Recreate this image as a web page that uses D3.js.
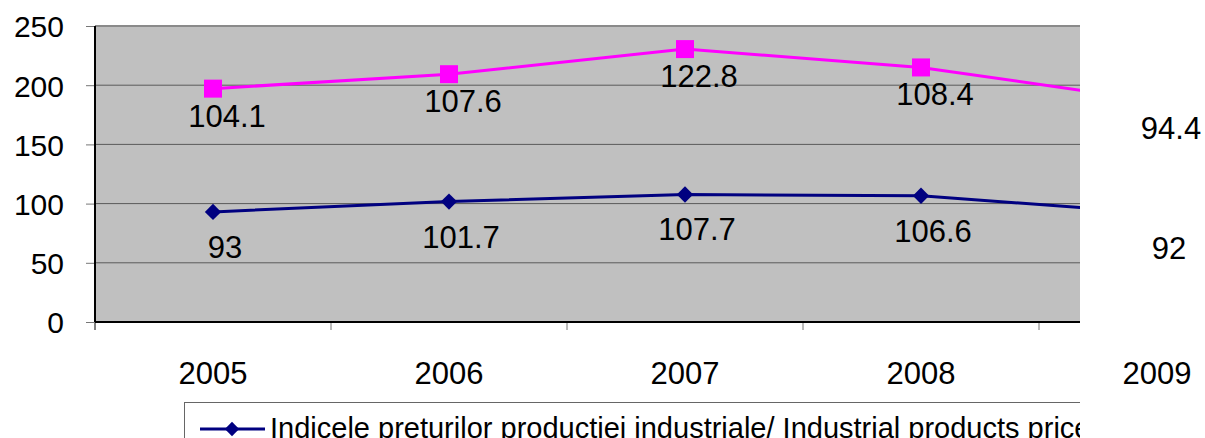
<!DOCTYPE html>
<html>
<head>
<meta charset="utf-8">
<script src="https://cdn.jsdelivr.net/npm/d3@7"></script>
<style>
  body { margin: 0; background: #fff; }
  svg text { font-family: "Liberation Sans", Arial, sans-serif; fill: #000; }
</style>
</head>
<body>
<div id="d3-container"></div>
<script>
    // Chart data
    const years = ["2005", "2006", "2007", "2008", "2009"];
    const industrialPrices = [93, 101.7, 107.7, 106.6, 92];
    const consumerPrices = [104.1, 107.6, 122.8, 108.4, 94.4];
    const yTicks = [0, 50, 100, 150, 200, 250];
    const legendLabel = "Indicele preturilor productiei industriale/ Industrial products price";

    function createChart()
    {
        // Set graph properties
        const width = 1205;
        const height = 438;
        const margin = { top: 26, bottom: 116, left: 95 };
        const bandWidth = 236;
        const clipRight = 1080;

        const svg = d3.select('#d3-container')
            .append('svg')
            .attr('width', width)
            .attr('height', height);

        // The plot and legend are cut off on the right
        svg.append("clipPath")
            .attr("id", "cut")
            .append("rect")
                .attr("x", 0)
                .attr("y", 0)
                .attr("width", clipRight)
                .attr("height", height);

        const x = d3.scaleBand()
            .domain(years)
            .range([margin.left, margin.left + years.length * bandWidth]);

        const y = d3.scaleLinear()
            .domain([0, 250])
            .range([height - margin.bottom, margin.top]);

        const cx = d => x(d) + x.bandwidth() / 2;

        const plot = svg.append("g").attr("clip-path", "url(#cut)");

        // Gray plot background
        plot.append("rect")
            .attr("x", margin.left)
            .attr("y", y(250))
            .attr("width", x.range()[1] - margin.left)
            .attr("height", y(0) - y(250))
            .attr("fill", "#c0c0c0");

        // Gridlines
        plot.append("g")
            .selectAll("line")
            .data(yTicks.filter(t => t > 0))
            .join("line")
                .attr("x1", margin.left)
                .attr("x2", x.range()[1])
                .attr("y1", d => y(d))
                .attr("y2", d => y(d))
                .attr("stroke", d => d === 250 ? "#8a8a8a" : "#5a5a5a")
                .attr("stroke-width", d => d === 250 ? 2 : 1);

        // Stacked series: the second line sits on top of the first
        const stacked = consumerPrices.map((v, i) => v + industrialPrices[i]);

        const line = d3.line()
            .x((d, i) => cx(years[i]))
            .y(d => y(d));

        plot.append("path")
            .datum(industrialPrices)
            .attr("d", line)
            .attr("fill", "none")
            .attr("stroke", "#000080")
            .attr("stroke-width", 3);

        plot.append("path")
            .datum(stacked)
            .attr("d", line)
            .attr("fill", "none")
            .attr("stroke", "#ff00ff")
            .attr("stroke-width", 3);

        const diamond = d3.symbol().type(d3.symbolDiamond2).size(170);

        plot.append("g")
            .selectAll("path")
            .data(industrialPrices)
            .join("path")
                .attr("d", diamond)
                .attr("transform", (d, i) => `translate(${cx(years[i])},${y(d)})`)
                .attr("fill", "#000080");

        plot.append("g")
            .selectAll("rect")
            .data(stacked)
            .join("rect")
                .attr("x", (d, i) => cx(years[i]) - 9)
                .attr("y", d => y(d) - 9)
                .attr("width", 18)
                .attr("height", 18)
                .attr("fill", "#ff00ff");

        // Axes
        const yAxis = d3.axisLeft(y).tickValues(yTicks).tickSize(9).tickPadding(22);
        const gy = svg.append("g")
            .attr("transform", `translate(${margin.left}, 0)`)
            .call(yAxis)
            .attr("font-size", "30px");
        gy.select(".domain").remove();
        gy.selectAll(".tick line").attr("stroke", "#777");
        gy.selectAll(".tick text").attr("dy", "0.36em");

        const xAxis = d3.axisBottom(x).tickSize(0).tickPadding(40);
        const gx = svg.append("g")
            .attr("transform", `translate(0,${y(0)})`)
            .call(xAxis)
            .attr("font-size", "31px");
        gx.select(".domain").remove();

        // Tick marks at band boundaries
        const boundaries = years.map(d => x(d));
        plot.append("g")
            .selectAll("line")
            .data(boundaries)
            .join("line")
                .attr("x1", d => d)
                .attr("x2", d => d)
                .attr("y1", y(0))
                .attr("y2", y(0) + 8)
                .attr("stroke", d => d === margin.left ? "#000" : "#777");

        // Axis lines
        plot.append("line")
            .attr("x1", margin.left)
            .attr("x2", x.range()[1])
            .attr("y1", y(0))
            .attr("y2", y(0))
            .attr("stroke", "#000")
            .attr("stroke-width", 2);
        svg.append("line")
            .attr("x1", margin.left)
            .attr("x2", margin.left)
            .attr("y1", y(250))
            .attr("y2", y(0))
            .attr("stroke", "#000")
            .attr("stroke-width", 2);

        // Data labels (not clipped)
        svg.append("g")
            .attr("font-size", "31px")
            .attr("text-anchor", "middle")
            .selectAll("text")
            .data(consumerPrices)
            .join("text")
                .attr("x", (d, i) => cx(years[i]) + 14)
                .attr("y", (d, i) => y(stacked[i]) + 38)
                .text(d => d);

        svg.append("g")
            .attr("font-size", "31px")
            .attr("text-anchor", "middle")
            .selectAll("text")
            .data(industrialPrices)
            .join("text")
                .attr("x", (d, i) => cx(years[i]) + 12)
                .attr("y", d => y(d) + 46)
                .text(d => d);

        // Legend
        const legend = svg.append("g").attr("clip-path", "url(#cut)");
        legend.append("rect")
            .attr("x", 184.5)
            .attr("y", 402.5)
            .attr("width", 1000)
            .attr("height", 80)
            .attr("fill", "#fff")
            .attr("stroke", "#666");
        legend.append("line")
            .attr("x1", 200)
            .attr("x2", 265)
            .attr("y1", 429)
            .attr("y2", 429)
            .attr("stroke", "#000080")
            .attr("stroke-width", 3);
        legend.append("path")
            .attr("d", d3.symbol().type(d3.symbolDiamond2).size(130))
            .attr("transform", "translate(232,429)")
            .attr("fill", "#000080");
        legend.append("text")
            .attr("x", 270)
            .attr("y", 438)
            .attr("font-size", "29px")
            .text(legendLabel);

        return svg.node();
    };

    createChart();
</script>
</body>
</html>
